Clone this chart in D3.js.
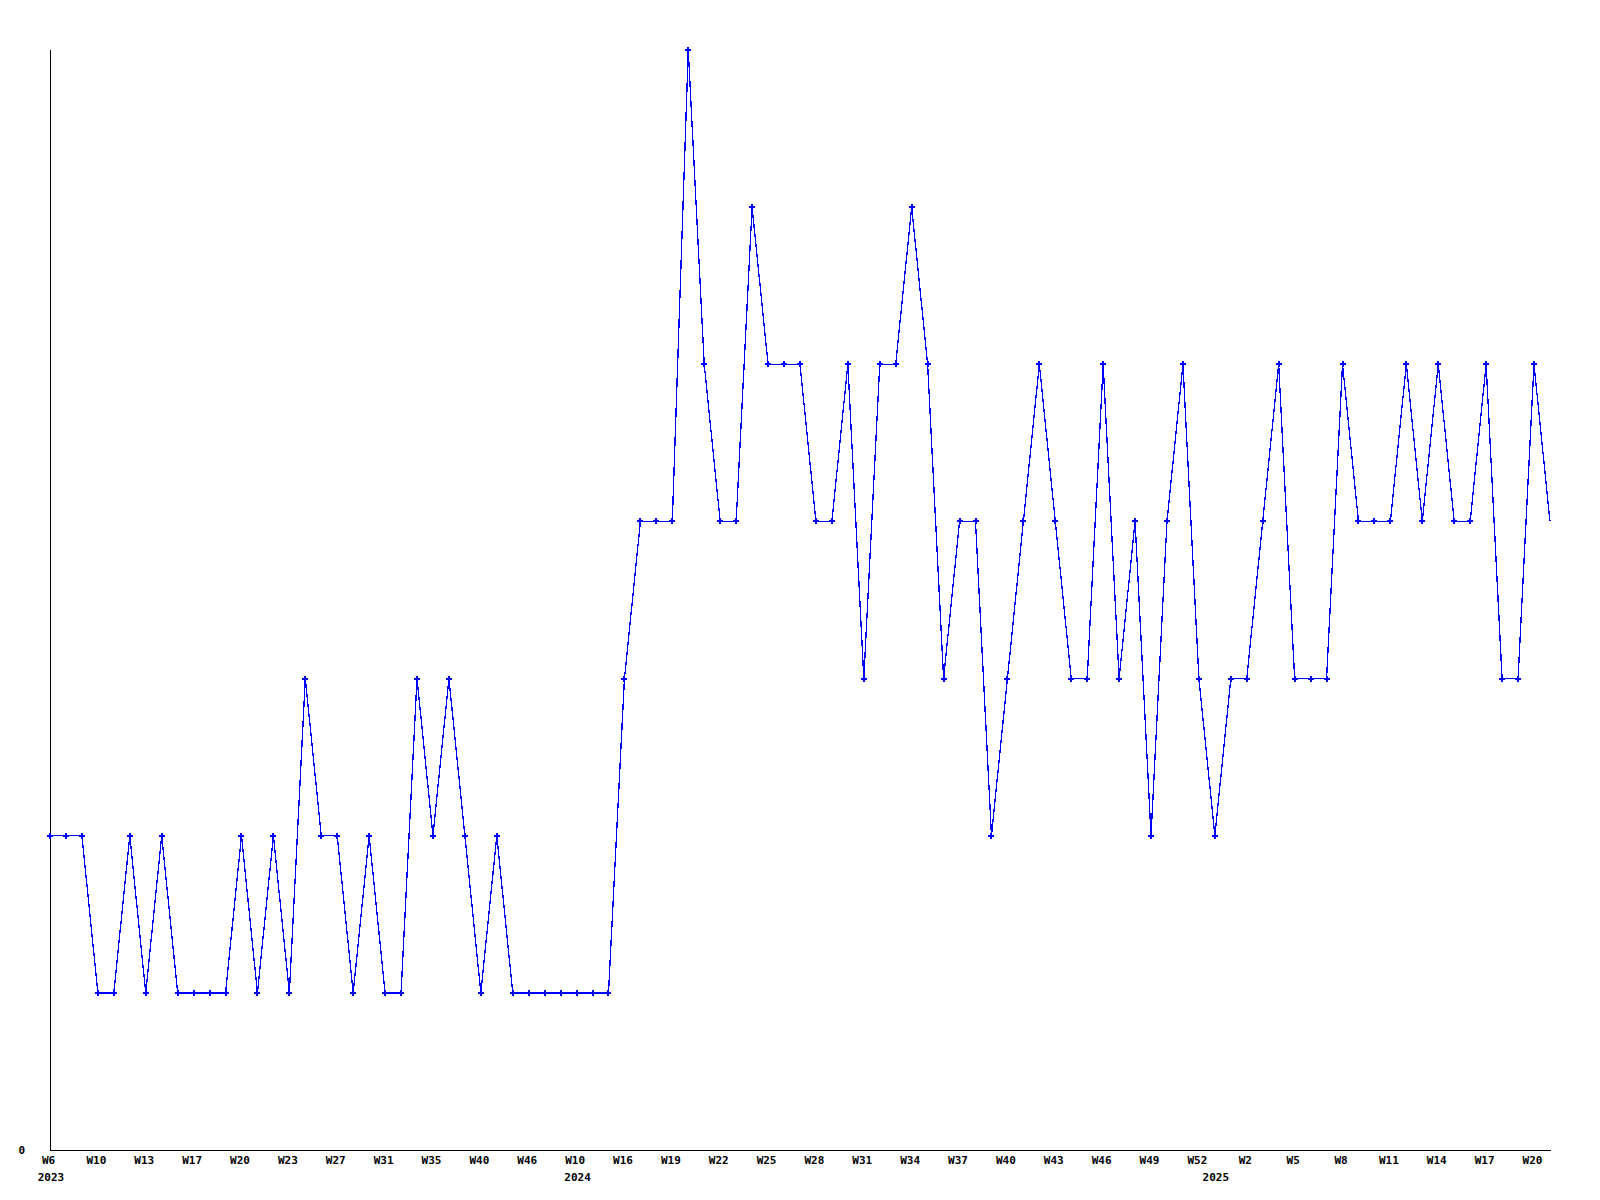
<!DOCTYPE html>
<html>
<head>
<meta charset="utf-8">
<script src="https://cdn.jsdelivr.net/npm/d3@7"></script>
<style>
  html, body { margin: 0; padding: 0; background: #fff; }
  svg { display: block; }
  text { font-family: "DejaVu Sans Mono", "Liberation Mono", monospace; font-weight: bold; font-size: 11px; fill: #000; }
</style>
</head>
<body>
<svg id="chart" width="1600" height="1200"></svg>
<script>
// ---- data ----
const years = [
  2023,2023,2023,2023,2023,2023,2023,2023,2023,2023,
  2023,2023,2023,2023,2023,2023,2023,2023,2023,2023,
  2023,2023,2023,2023,2023,2023,2023,2023,2023,2023,
  2023,2023,2023,
  2024,2024,2024,2024,2024,2024,2024,2024,2024,2024,
  2024,2024,2024,2024,2024,2024,2024,2024,2024,2024,
  2024,2024,2024,2024,2024,2024,2024,2024,2024,2024,
  2024,2024,2024,2024,2024,2024,2024,2024,2024,2024,
  2025,2025,2025,2025,2025,2025,2025,2025,2025,2025,
  2025,2025,2025,2025,2025,2025,2025,2025,2025,2025,
  2025,2025
];
const weeks = [
  "W6","W7","W8","W10","W11","W12","W13","W14","W15","W17",
  "W18","W19","W20","W21","W22","W23","W24","W25","W27","W28",
  "W29","W31","W32","W33","W35","W37","W38","W40","W42","W44",
  "W46","W48","W51",
  "W10","W12","W14","W16","W17","W18","W19","W20","W21","W22",
  "W23","W24","W25","W26","W27","W28","W29","W30","W31","W32",
  "W33","W34","W35","W36","W37","W38","W39","W40","W41","W42",
  "W43","W44","W45","W46","W47","W48","W49","W50","W51","W52",
  "W0","W1","W2","W3","W4","W5","W6","W7","W8","W9",
  "W10","W11","W12","W13","W14","W15","W16","W17","W18","W19",
  "W20","W21"
];
const values = [
  2,2,2,1,1,2,1,2,1,1,
  1,1,2,1,2,1,3,2,2,1,
  2,1,1,3,2,3,2,1,2,1,
  1,1,1,
  1,1,1,3,4,4,4,7,5,4,
  4,6,5,5,5,4,4,5,3,5,
  5,6,5,3,4,4,2,3,4,5,
  4,3,3,5,3,4,2,4,5,3,
  2,3,3,4,5,3,3,3,5,4,
  4,4,5,4,5,4,4,5,3,3,
  5,4
];
const yTicks = [0];
const yMax = 7;

// ---- chart ----
const svg = d3.select("#chart");
const mLeft = 50, mRight = 1534, mTop = 50, mBottom = 1150;

// the final (partial) week is drawn without a marker and without a label
const lastMarkedIndex = values.length - 2;
const x = d3.scaleLinear().domain([0, lastMarkedIndex]).range([mLeft, mRight]);
const y = d3.scaleLinear().domain([0, yMax]).range([mBottom, mTop]);

const pts = values.map((v, i) => ({ i, v }));

// axes
const xAxis = d3.axisBottom(x)
  .tickValues(d3.range(0, lastMarkedIndex + 1, 3))
  .tickFormat(i => weeks[i])
  .tickSize(0)
  .tickSizeOuter(0)
  .tickPadding(6);
const gx = svg.append("g").attr("transform", `translate(0,${mBottom})`).call(xAxis);
gx.select(".domain").attr("stroke", "#000").attr("shape-rendering", "crispEdges")
  .attr("d", `M${mLeft + 0.5},0.5H${Math.round(x(values.length - 1)) + 1}`);
gx.selectAll("text").attr("font-size", null).attr("font-family", null)
  .attr("dy", "0.71em").attr("dx", -2);

// year labels at first point of each year
const yearStarts = years.map((yr, i) => (i === 0 || yr !== years[i - 1]) ? i : -1).filter(i => i >= 0);
svg.append("g").selectAll("text").data(yearStarts).join("text")
  .attr("x", i => x(i) + 1)
  .attr("y", mBottom + 31)
  .attr("text-anchor", "middle")
  .text(i => years[i]);

const yAxis = d3.axisLeft(y)
  .tickValues(yTicks)
  .tickFormat(d3.format("d"))
  .tickSize(0)
  .tickSizeOuter(0)
  .tickPadding(25);
const gy = svg.append("g").attr("transform", `translate(${mLeft},0)`).call(yAxis);
gy.select(".domain").attr("stroke", "#000").attr("shape-rendering", "crispEdges")
  .attr("d", `M0.5,${mTop}V${mBottom + 0.5}`);
gy.selectAll("text").attr("font-size", null).attr("font-family", null);

// line
const line = d3.line().x(d => x(d.i)).y(d => y(d.v));
svg.append("path")
  .datum(pts)
  .attr("fill", "none")
  .attr("stroke", "#0000ff")
  .attr("stroke-width", 1.3)
  .attr("shape-rendering", "crispEdges")
  .attr("d", line);

// markers
const sym = d3.symbol().type(d3.symbolCross).size(20);
svg.append("g").selectAll("path")
  .data(pts.filter(d => d.i <= lastMarkedIndex))
  .join("path")
  .attr("transform", d => `translate(${x(d.i)},${y(d.v)})`)
  .attr("d", sym)
  .attr("fill", "#0000ff")
  .attr("shape-rendering", "crispEdges");
</script>
</body>
</html>
